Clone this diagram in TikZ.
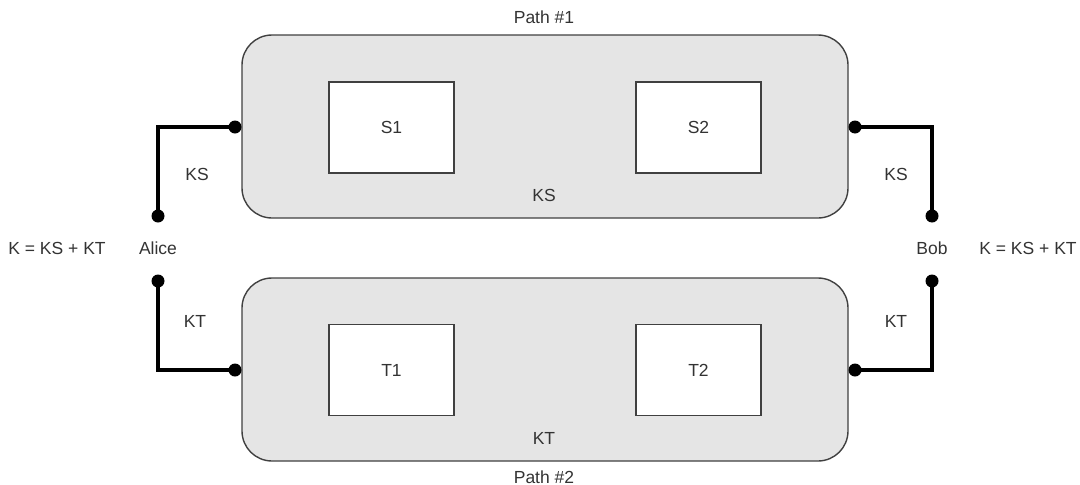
\documentclass[tikz,border=0pt]{standalone}
\usepackage{fontspec}
\setmainfont{Liberation Sans}
\begin{document}
\begin{tikzpicture}[x=1pt,y=-1pt,
  pathbox/.style={draw=black!75,line width=1.4pt,fill=black!10,rounded corners=30pt,minimum width=606pt,minimum height=183pt,inner sep=0pt},
  nodebox/.style={draw=black!75,line width=1.6pt,fill=white,minimum width=125pt,minimum height=91pt,inner sep=0pt},
  dot/.style={circle,fill=black,inner sep=0pt,minimum size=13pt},
  wire/.style={line width=3.2pt,black},
  lbl/.style={font=\fontsize{17.5}{20}\selectfont,text=black!80,inner sep=0pt}]
\useasboundingbox (0,0) rectangle (1080,485);
% path boxes
\node[pathbox] (p1) at (545,126.5) {};
\node[pathbox] (p2) at (545,369.5) {};
\node[nodebox,label={[lbl]center:S1}] (s1) at (391.5,127.5) {};
\node[nodebox,label={[lbl]center:S2}] (s2) at (698.5,127.5) {};
\node[nodebox,label={[lbl]center:T1}] (t1) at (391.5,370) {};
\node[nodebox,label={[lbl]center:T2}] (t2) at (698.5,370) {};
% labels
\node[lbl] (path1) at (544,17) {Path \#1};
\node[lbl] (path2) at (544,477) {Path \#2};
\node[lbl] (ksin) at (544,195) {KS};
\node[lbl] (ktin) at (544,438) {KT};
\node[lbl] (alice) at (158,248) {Alice};
\node[lbl] (bob) at (932,248) {Bob};
\node[lbl] (kl) at (57,248) {K = KS + KT};
\node[lbl] (kr) at (1028,248) {K = KS + KT};
\node[lbl] (ksl) at (197,174) {KS};
\node[lbl] (ksr) at (896,174) {KS};
\node[lbl] (ktl) at (195,321) {KT};
\node[lbl] (ktr) at (896,321) {KT};
% dots
\node[dot] (a1) at (235,127) {};
\node[dot] (a2) at (158,216) {};
\node[dot] (a3) at (158,281) {};
\node[dot] (a4) at (235,370) {};
\node[dot] (b1) at (855,127) {};
\node[dot] (b2) at (932,216) {};
\node[dot] (b3) at (932,281) {};
\node[dot] (b4) at (855,370) {};
% wires
\draw[wire] (a1.center) -| (a2.center);
\draw[wire] (a4.center) -| (a3.center);
\draw[wire] (b1.center) -| (b2.center);
\draw[wire] (b4.center) -| (b3.center);
\end{tikzpicture}
\end{document}
